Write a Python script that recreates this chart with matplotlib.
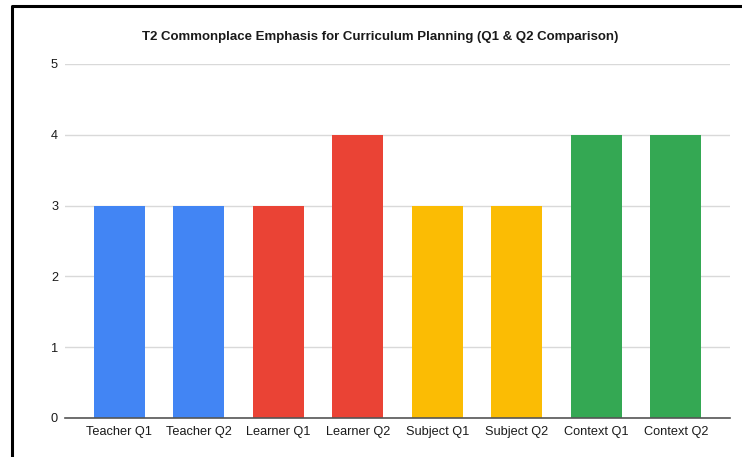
import matplotlib.pyplot as plt
from matplotlib.lines import Line2D

# Commonplace emphasis scores per question
labels = ["Teacher Q1", "Teacher Q2", "Learner Q1", "Learner Q2",
          "Subject Q1", "Subject Q2", "Context Q1", "Context Q2"]
scores = [3, 3, 3, 4, 3, 3, 4, 4]
colors = ["#4285F4", "#4285F4", "#EA4335", "#EA4335",
          "#FBBC04", "#FBBC04", "#34A853", "#34A853"]

plt.rcParams['font.family'] = ['Liberation Sans', 'DejaVu Sans']

W, H = 742, 457
fig = plt.figure(figsize=(W / 100, H / 100), dpi=100)
ax = fig.add_axes([65 / W, 39 / H, 665 / W, 354 / H])

x = list(range(len(labels)))
ax.bar(x, scores, width=0.64, color=colors, zorder=3)

ax.set_xlim(-0.68, len(labels) - 1 + 0.68)
ax.set_ylim(0, 5)
ax.set_yticks(range(0, 6))
ax.set_xticks(x)
ax.set_xticklabels(labels)
ax.tick_params(axis='both', length=0, labelsize=9.2, colors="#1a1a1a")
ax.tick_params(axis='x', pad=6)
ax.tick_params(axis='y', pad=5)
ax.grid(axis='y', color="#d9d9d9", linewidth=1, zorder=0)
for side in ["top", "right", "left"]:
    ax.spines[side].set_visible(False)
ax.spines["bottom"].set_color("#555555")
ax.spines["bottom"].set_linewidth(1.2)
ax.spines["bottom"].set_zorder(4)

fig.text(380 / W, 1 - 37 / H,
         "T2 Commonplace Emphasis for Curriculum Planning (Q1 & Q2 Comparison)",
         ha="center", va="center", fontsize=9.5, fontweight="bold", color="#1a1a1a")

# frame around the chart (top and left edges)
top = 1 - 6 / H
left = 12 / W
fig.add_artist(Line2D([left, left, 1.0], [0.0, top, top],
                      transform=fig.transFigure, color="black", linewidth=2.2))

fig.savefig("out.png", dpi=100)
